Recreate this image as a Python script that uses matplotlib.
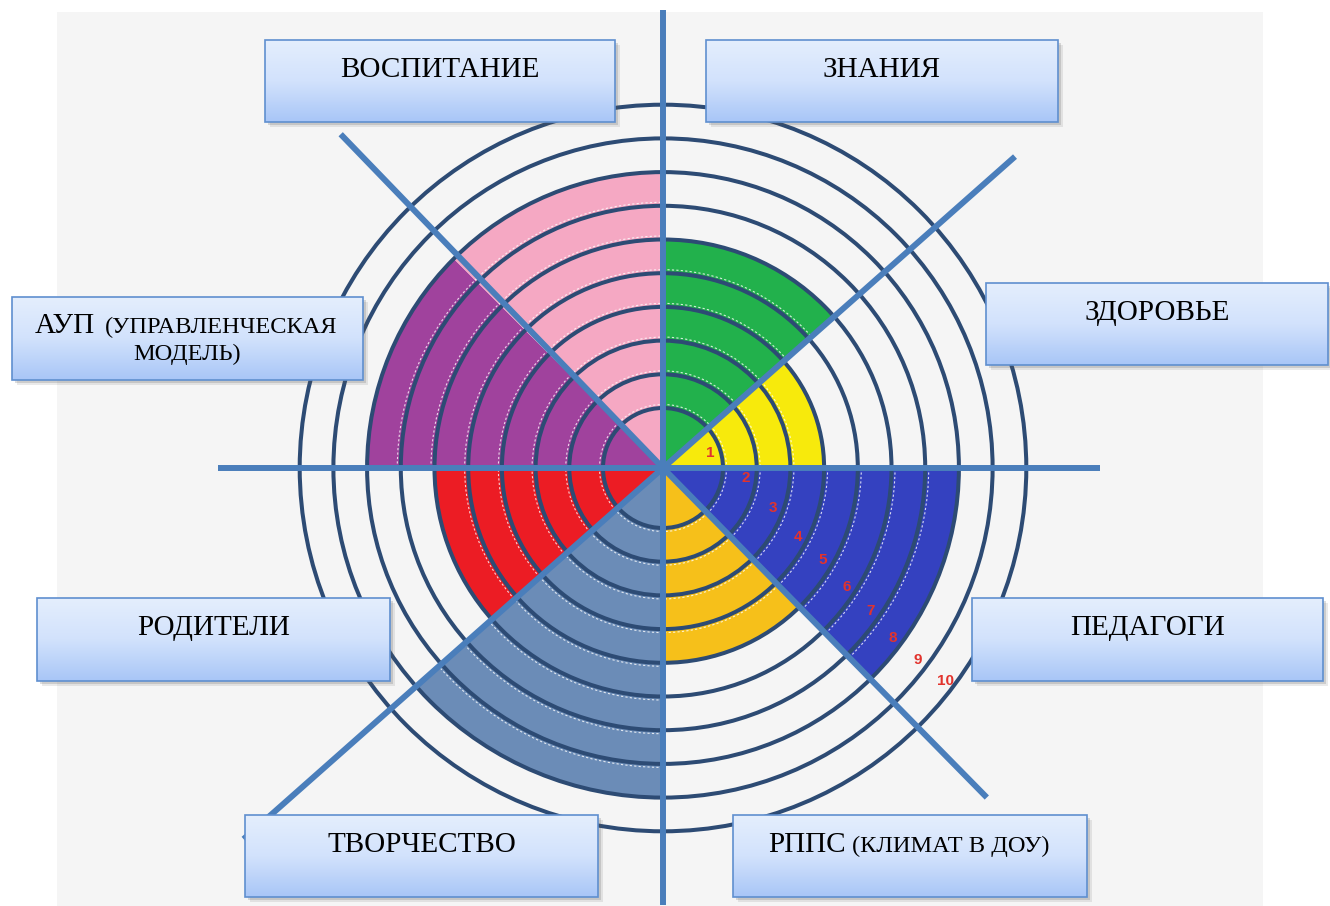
import matplotlib.pyplot as plt
import numpy as np
from matplotlib.patches import Wedge, Circle, Arc, Rectangle
from matplotlib.colors import LinearSegmentedColormap

# canvas in pixel units
W, H = 1330, 906
CX, CY = 663, 468
R0, STEP = 60, 33.7          # radius of ring 1 and distance between rings

# sectors, clockwise from the top-right one
categories = ['ЗНАНИЯ', 'ЗДОРОВЬЕ', 'ПЕДАГОГИ', 'РППС', 'ТВОРЧЕСТВО', 'РОДИТЕЛИ', 'АУП', 'ВОСПИТАНИЕ']
levels = [6, 4, 8, 5, 9, 6, 8, 8]
colors = ['#22b14c', '#f7ea0c', '#3441c0', '#f6c01a', '#6b8cb7', '#ec1c24', '#a0429d', '#f5a8c3']
n_rings = 10
ring_labels = [str(k) for k in range(1, n_rings + 1)]

# sector edges (degrees, counterclockwise from east)
spans = [(41.5, 90), (0, 41.5), (-45.5, 0), (-90, -45.5),
         (-138.5, -90), (-180, -138.5), (135, 180), (90, 135)]
label_angles = [18, -7, -20, -27, -30, -33, -34.5, -36.5, -37, -37]


def rad(k):
    return R0 + (k - 1) * STEP


fig = plt.figure(figsize=(W / 100, H / 100), dpi=100)
ax = fig.add_axes([0, 0, 1, 1])
ax.axis('off')

ax.add_patch(Rectangle((57, 12), 1206, 900, color='#f5f5f5', zorder=0, lw=0))

# filled sectors (y axis is flipped, so angles get a minus sign)
for (a1, a2), lev, c in zip(spans, levels, colors):
    ax.add_patch(Wedge((CX, CY), rad(lev), -a2, -a1, color=c, lw=0, zorder=1))
    for k in range(1, lev):
        ax.add_patch(Arc((CX, CY), 2 * (rad(k) + 3.5), 2 * (rad(k) + 3.5), theta1=-a2, theta2=-a1,
                         color='white', lw=0.8, ls=(0, (2, 2)), alpha=0.8, zorder=1.5))

# rings
for k in range(1, n_rings + 1):
    ax.add_patch(Circle((CX, CY), rad(k), fill=False, ec='#2d4b74', lw=2.9, zorder=2))

# spokes
spoke = dict(color='#4a7ebb', lw=4.3, solid_capstyle='butt', zorder=3)
ax.plot([218, 1100], [CY, CY], **spoke)
ax.plot([CX, CX], [10, 905], **spoke)
for ang, length in [(41.5, 470), (134, 464), (-45.5, 462), (221.5, 560)]:
    t = np.deg2rad(ang)
    ax.plot([CX, CX + length * np.cos(t)], [CY, CY - length * np.sin(t)], **spoke)

# ring numbers
for k, (lab, ang) in enumerate(zip(ring_labels, label_angles), start=1):
    t = np.deg2rad(ang)
    r = rad(k) - 10
    ax.text(CX + r * np.cos(t), CY - r * np.sin(t), lab, color='#e2332d', fontsize=11,
            fontweight='bold', family='Liberation Sans', ha='center', va='center', zorder=4)

# label boxes
cmap = LinearSegmentedColormap.from_list('box', ['#e4eefd', '#d2e2fc', '#a9c6f7'])
grad = np.linspace(0, 1, 64)[:, None]
boxes = {
    'ВОСПИТАНИЕ': (265, 40, 615, 122),
    'ЗНАНИЯ': (706, 40, 1058, 122),
    'ЗДОРОВЬЕ': (986, 283, 1328, 365),
    'АУП': (12, 297, 363, 380),
    'РОДИТЕЛИ': (37, 598, 390, 681),
    'ПЕДАГОГИ': (972, 598, 1323, 681),
    'ТВОРЧЕСТВО': (245, 815, 598, 897),
    'РППС': (733, 815, 1087, 897),
}
serif = 'Liberation Serif'
big, small = 21, 17.6
for name, (x0, y0, x1, y1) in boxes.items():
    for d, al in [(5, 0.12), (3, 0.2)]:
        ax.add_patch(Rectangle((x0 + d, y0 + d), x1 - x0, y1 - y0, color='#555555',
                               alpha=al, lw=0, zorder=4.8))
    ax.imshow(grad, extent=(x0, x1, y1, y0), cmap=cmap, aspect='auto', origin='upper',
              zorder=5, interpolation='bilinear')
    ax.add_patch(Rectangle((x0, y0), x1 - x0, y1 - y0, fill=False, ec='#5f8fcf', lw=1.2, zorder=5.1))
    if name == 'АУП':
        ax.text(35, y0 + 36, 'АУП', family=serif, fontsize=big, ha='left', va='baseline', zorder=6)
        ax.text(337, y0 + 36, '(УПРАВЛЕНЧЕСКАЯ', family=serif, fontsize=small, ha='right',
                va='baseline', zorder=6)
        ax.text((x0 + x1) / 2, y0 + 63, 'МОДЕЛЬ)', family=serif, fontsize=small, ha='center',
                va='baseline', zorder=6)
    elif name == 'РППС':
        ax.text(768, y0 + 37, 'РППС', family=serif, fontsize=big, ha='left', va='baseline', zorder=6)
        ax.text(1050, y0 + 37, '(КЛИМАТ В ДОУ)', family=serif, fontsize=small, ha='right',
                va='baseline', zorder=6)
    else:
        ax.text((x0 + x1) / 2, y0 + 37, name, family=serif, fontsize=big, ha='center',
                va='baseline', zorder=6)

ax.set_xlim(0, W)
ax.set_ylim(H, 0)
ax.set_aspect('auto')
fig.savefig('out.png', dpi=100)
